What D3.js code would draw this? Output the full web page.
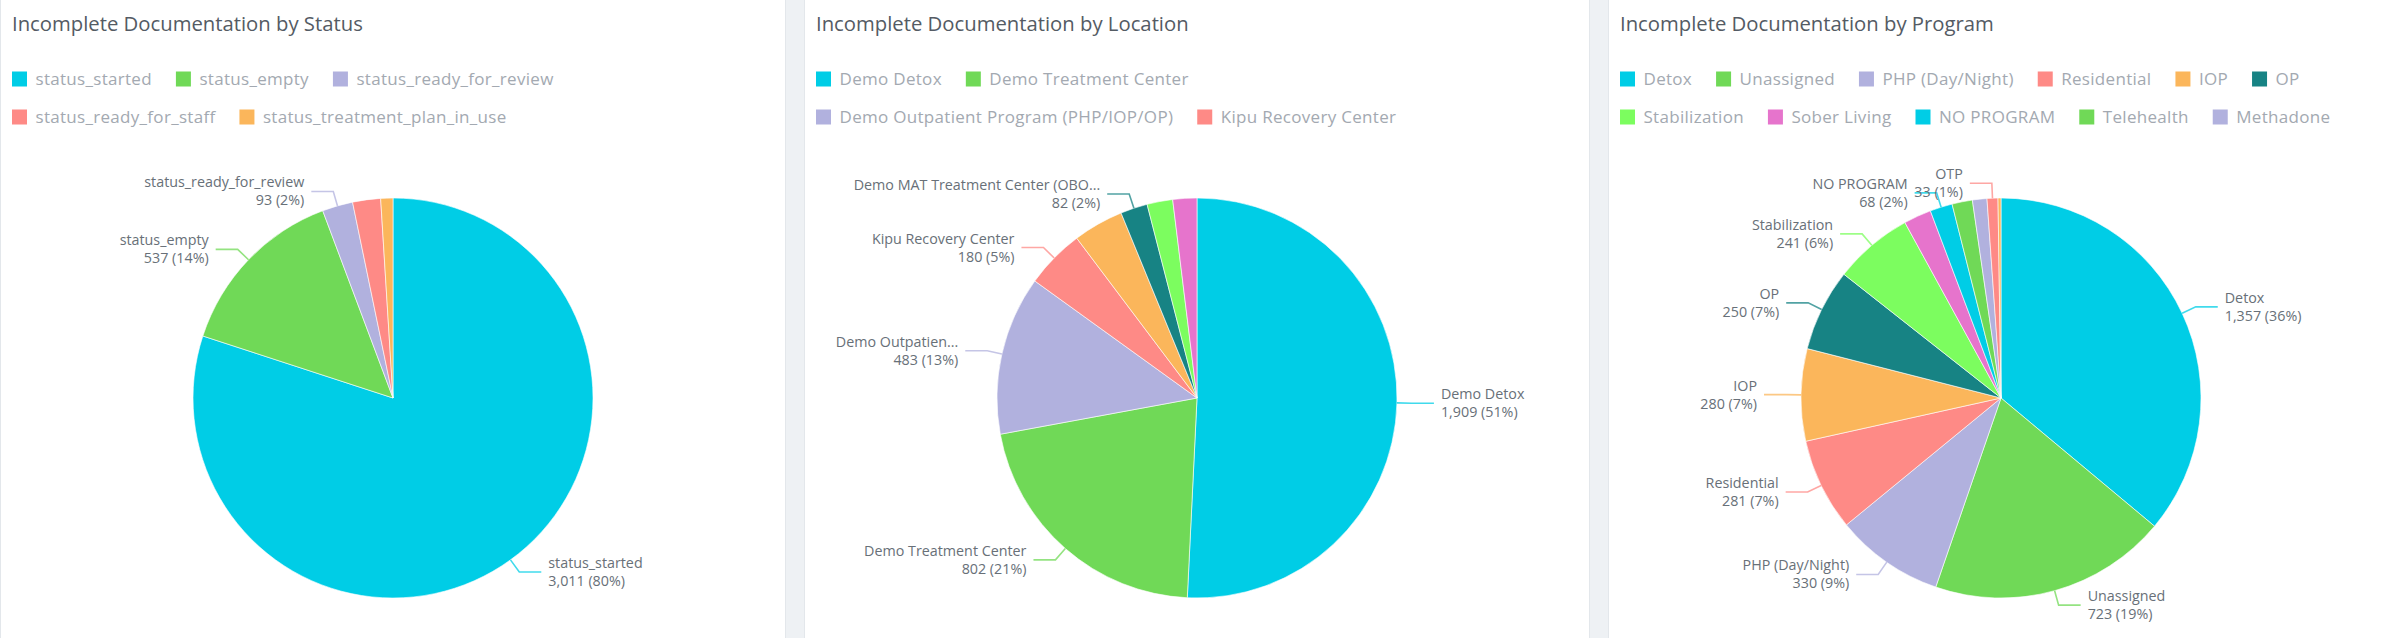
<!DOCTYPE html>
<html>
<head>
<meta charset="utf-8">
<script src="https://cdn.jsdelivr.net/npm/d3@7"></script>
<style>
  body { margin: 0; background: #eef1f4; }
  svg { display: block; font-family: "Open Sans", "Noto Sans", sans-serif; }
</style>
</head>
<body>
<svg id="chart" width="2390" height="638"></svg>
<script>
// colour cycle used by all three visuals
var palette = ['#00cde6', '#70d957', '#b1b1de', '#fe8a86', '#fbb65b', '#178384', '#7cfd5f', '#e674cc'];

var titles = ['Incomplete Documentation by Status', 'Incomplete Documentation by Location', 'Incomplete Documentation by Program'];

var statusNames = ['status_started', 'status_empty', 'status_ready_for_review', 'status_ready_for_staff', 'status_treatment_plan_in_use'];
var statusCounts = [3011, 537, 93, 85, 37];
var statusLabeled = ['status_started', 'status_empty', 'status_ready_for_review'];

var locationNames = ['Demo Detox', 'Demo Treatment Center', 'Demo Outpatient Program (PHP/IOP/OP)', 'Kipu Recovery Center',
  'Demo Residential Treatment Center', 'Demo MAT Treatment Center (OBOT Program)', 'Demo Stabilization Center', 'Demo Sober Living'];
var locationCounts = [1909, 802, 483, 180, 153, 82, 78, 73];
var locationLabeled = ['Demo Detox', 'Demo Treatment Center', 'Demo Outpatient Program (PHP/IOP/OP)', 'Kipu Recovery Center',
  'Demo MAT Treatment Center (OBOT Program)'];

var programNames = ['Detox', 'Unassigned', 'PHP (Day/Night)', 'Residential', 'IOP', 'OP', 'Stabilization', 'Sober Living',
  'NO PROGRAM', 'Telehealth', 'Methadone', 'OTP', 'Aftercare'];
var programCounts = [1357, 723, 330, 281, 280, 250, 241, 84, 68, 62, 44, 33, 9];
var programLabeled = ['Detox', 'Unassigned', 'PHP (Day/Night)', 'Residential', 'IOP', 'OP', 'Stabilization', 'NO PROGRAM', 'OTP'];

var panelW = 786, panelH = 645, gap = 18;
var radius = 200, cy = 398;
var fmt = d3.format(',');

var svg = d3.select('#chart');

function truncate(textEl, full, maxW) {
  textEl.text(full);
  if (textEl.node().getComputedTextLength() <= maxW) return;
  var s = full;
  while (s.length > 1) {
    s = s.slice(0, -1);
    textEl.text(s.replace(/\s+$/, '') + '...');
    if (textEl.node().getComputedTextLength() <= maxW) return;
  }
}

function drawPanel(i, names, counts, labeled) {
  var px = i * (panelW + gap);
  var g = svg.append('g').attr('transform', 'translate(' + px + ',0)');

  g.append('rect')
    .attr('x', 0.5).attr('y', -2)
    .attr('width', panelW - 1).attr('height', panelH)
    .attr('fill', '#fff').attr('stroke', '#e3e7eb');

  g.append('text')
    .attr('x', 12).attr('y', 31)
    .attr('font-size', 20.3).attr('fill', '#545b64')
    .text(titles[i]);

  var data = names.map(function(n, k) { return { name: n, value: counts[k] }; });
  var color = d3.scaleOrdinal().domain(names).range(palette);
  var total = d3.sum(counts);

  // legend: flows into at most two rows, the rest is cut off
  var legend = g.append('g');
  var lx = 12, row = 0, rowY = [79, 117], maxX = panelW - 24;
  for (var k = 0; k < data.length; k++) {
    var item = legend.append('g');
    item.append('rect').attr('width', 15).attr('height', 15).attr('y', -7.5).attr('fill', color(data[k].name));
    var t = item.append('text').attr('x', 23.5).attr('dy', '0.35em')
      .attr('font-size', 17).attr('letter-spacing', 0.3)
      .attr('fill', '#a3a9b1').text(data[k].name);
    var w = 23.5 + t.node().getComputedTextLength();
    if (lx + w > maxX && lx > 12) { row++; lx = 12; }
    if (row > 1) { item.remove(); break; }
    item.attr('transform', 'translate(' + lx + ',' + rowY[row] + ')');
    lx += w + 24;
  }

  var cx = panelW / 2;
  var pie = d3.pie().sort(null).value(function(d) { return d.value; });
  var arcs = pie(data);
  var arc = d3.arc().innerRadius(0).outerRadius(radius);

  var chart = g.append('g').attr('transform', 'translate(' + cx + ',' + cy + ')');
  chart.selectAll('path.slice')
    .data(arcs)
    .enter()
    .append('path')
      .attr('class', 'slice')
      .attr('d', arc)
      .attr('fill', function(d) { return color(d.data.name); })
      .attr('stroke', '#fff')
      .attr('stroke-width', 0.6);

  var shown = arcs.filter(function(d) { return labeled.indexOf(d.data.name) >= 0; });
  var labels = chart.selectAll('g.lbl')
    .data(shown)
    .enter()
    .append('g')
      .attr('class', 'lbl');

  labels.each(function(d) {
    var a = (d.startAngle + d.endAngle) / 2;
    var side = Math.sin(a) >= 0 ? 1 : -1;
    var x1 = Math.sin(a) * radius, y1 = -Math.cos(a) * radius;
    var x2 = Math.sin(a) * (radius + 15), y2 = -Math.cos(a) * (radius + 15);
    var x3 = x2 + side * 22;
    var el = d3.select(this);
    el.append('polyline')
      .attr('points', [[x1, y1], [x2, y2], [x3, y2]].map(function(p) { return p.join(','); }).join(' '))
      .attr('fill', 'none')
      .attr('stroke', color(d.data.name))
      .attr('stroke-opacity', 0.75)
      .attr('stroke-width', 1.6);
    var tx = x3 + side * 7;
    var anchor = side > 0 ? 'start' : 'end';
    var name = el.append('text')
      .attr('x', tx).attr('y', y2 - 9).attr('dy', '0.35em')
      .attr('text-anchor', anchor)
      .attr('font-size', 14.3).attr('fill', '#687078');
    var room = side > 0 ? (panelW - (cx + tx)) : (cx + tx);
    truncate(name, d.data.name, Math.min(250, room - 28));
    el.append('text')
      .attr('x', tx).attr('y', y2 + 9).attr('dy', '0.35em')
      .attr('text-anchor', anchor)
      .attr('font-size', 14.3).attr('fill', '#687078')
      .text(fmt(d.data.value) + ' (' + Math.round(d.data.value / total * 100) + '%)');
  });
}

drawPanel(0, statusNames, statusCounts, statusLabeled);
drawPanel(1, locationNames, locationCounts, locationLabeled);
drawPanel(2, programNames, programCounts, programLabeled);
</script>
</body>
</html>
